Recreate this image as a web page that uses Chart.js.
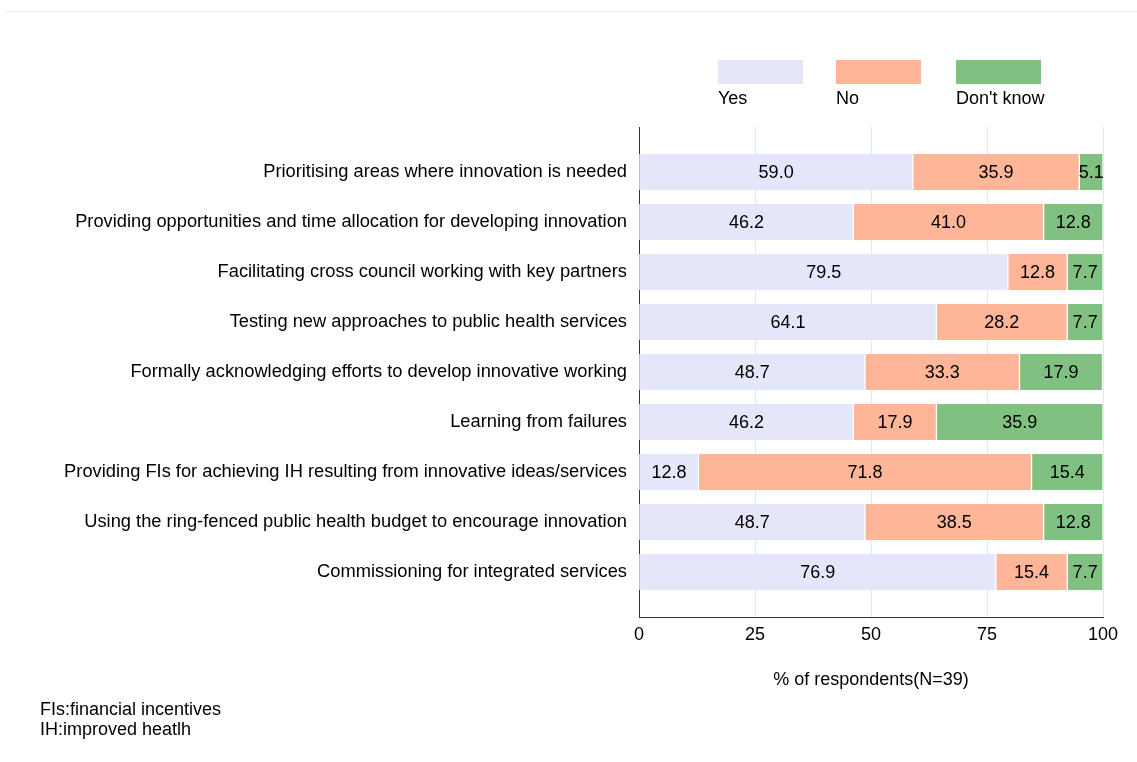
<!DOCTYPE html>
<html>
<head>
<meta charset="utf-8">
<script src="https://cdn.jsdelivr.net/npm/chart.js@4"></script>
<style>
  html, body { margin: 0; padding: 0; background: #fff; }
  #wrap { position: relative; width: 1137px; height: 762px; font-family: "Liberation Sans", Arial, sans-serif; }
  #topline { position: absolute; left: 5px; right: 0; top: 11px; border-top: 1px solid #eeeeee; }
  #note { position: absolute; left: 40px; top: 699px; font-size: 18px; line-height: 20px; color: #000; }
</style>
</head>
<body>
<div id="wrap">
  <div id="topline"></div>
  <canvas id="chart" width="1137" height="762"></canvas>
  <div id="note">FIs:financial incentives<br>IH:improved heatlh</div>
</div>
<script>
const items = [
  'Prioritising areas where innovation is needed',
  'Providing opportunities and time allocation for developing innovation',
  'Facilitating cross council working with key partners',
  'Testing new approaches to public health services',
  'Formally acknowledging efforts to develop innovative working',
  'Learning from failures',
  'Providing FIs for achieving IH resulting from innovative ideas/services',
  'Using the ring-fenced public health budget to encourage innovation',
  'Commissioning for integrated services'
];
const yes = [59.0, 46.2, 79.5, 64.1, 48.7, 46.2, 12.8, 48.7, 76.9];
const no = [35.9, 41.0, 12.8, 28.2, 33.3, 17.9, 71.8, 38.5, 15.4];
const dontKnow = [5.1, 12.8, 7.7, 7.7, 17.9, 35.9, 15.4, 12.8, 7.7];
const xTicks = [0, 25, 50, 75, 100];

const font = '"Liberation Sans", Arial, sans-serif';
const fs = 18;
const pts = arr => arr.map((v, i) => ({ x: v, y: i }));

function ds(label, data, color) {
  return { label, data: pts(data), backgroundColor: color, borderColor: '#ffffff',
    borderWidth: { left: 1, right: 1, top: 0, bottom: 0 }, borderSkipped: false, barThickness: 36 };
}

const valueLabels = {
  id: 'valueLabels',
  afterDatasetsDraw(chart) {
    const ctx = chart.ctx;
    ctx.save();
    ctx.font = fs + 'px ' + font;
    ctx.fillStyle = '#000';
    ctx.textAlign = 'center';
    ctx.textBaseline = 'middle';
    chart.data.datasets.forEach((d, di) => {
      chart.getDatasetMeta(di).data.forEach((bar, i) => {
        const p = bar.getCenterPoint();
        ctx.fillText(d.data[i].x.toFixed(1), p.x, p.y + 1);
      });
    });
    ctx.restore();
  }
};

const topLegend = {
  id: 'topLegend',
  afterDraw(chart) {
    const ctx = chart.ctx;
    const xs = [718, 836, 956];
    ctx.save();
    ctx.font = fs + 'px ' + font;
    ctx.textBaseline = 'middle';
    ctx.textAlign = 'left';
    chart.data.datasets.forEach((d, i) => {
      ctx.fillStyle = d.backgroundColor;
      ctx.fillRect(xs[i], 60, 85, 24);
      ctx.fillStyle = '#000';
      ctx.fillText(d.label, xs[i], 99);
    });
    ctx.restore();
  }
};

new Chart(document.getElementById('chart'), {
  type: 'bar',
  data: {
    datasets: [
      ds('Yes', yes, '#e6e6fa'),
      ds('No', no, '#ffb598'),
      ds("Don't know", dontKnow, '#80c181')
    ]
  },
  options: {
    indexAxis: 'y',
    responsive: false,
    animation: false,
    layout: { padding: { top: 127, right: 34, bottom: 65, left: 0 } },
    plugins: { legend: { display: false }, tooltip: { enabled: false } },
    scales: {
      x: {
        type: 'linear', stacked: true, min: 0, max: 100,
        afterBuildTicks: s => { s.ticks = xTicks.map(v => ({ value: v })); },
        afterFit: s => { s.height = 80; },
        grid: { color: '#e3eaed', drawTicks: false },
        border: { color: '#333', width: 1 },
        ticks: { color: '#000', font: { family: font, size: fs }, padding: 7 },
        title: { display: true, text: '% of respondents(N=39)', color: '#000',
          font: { family: font, size: fs }, padding: { top: 4, bottom: 6 } }
      },
      y: {
        type: 'linear', stacked: true, reverse: true, min: -0.9, max: 8.9,
        offset: false,
        afterBuildTicks: s => { s.ticks = items.map((l, i) => ({ value: i })); },
        afterFit: s => { s.width = 639; },
        grid: { display: false, drawTicks: false, offset: false },
        border: { color: '#333', width: 1 },
        ticks: { autoSkip: false, color: '#000', font: { family: font, size: 18.3 }, padding: 12,
          callback: v => items[v] }
      }
    }
  },
  plugins: [valueLabels, topLegend]
});
</script>
</body>
</html>
